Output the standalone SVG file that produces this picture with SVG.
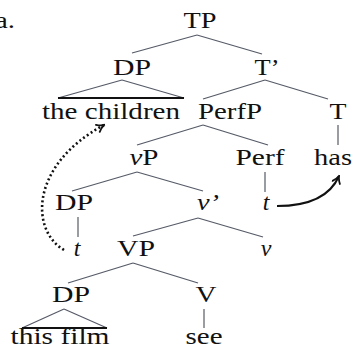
<svg xmlns="http://www.w3.org/2000/svg" width="353" height="348" viewBox="0 0 353 348">
  <style>
    .lbl { text-anchor: middle; fill: #111; }
    .it { font-style: italic; }
    .br { stroke: #555a66; stroke-width: 1.2; fill: none; }
    .base { stroke: #111; stroke-width: 1.8; }
    .mv { stroke: #111; stroke-width: 2; fill: none; }
    .dot { stroke: #111; stroke-width: 2.6; fill: none; stroke-dasharray: 2 2.6; }
  </style>
  <defs>
    <marker id="head" viewBox="0 0 10 10" refX="8.5" refY="5" markerWidth="10" markerHeight="10" orient="auto" markerUnits="userSpaceOnUse">
      <path d="M1.5,1 Q5,4 8.5,5 Q5,6 1.5,9" fill="none" stroke="#111" stroke-width="1.8" stroke-linecap="round"/>
    </marker>
  </defs>
  <rect width="353" height="348" fill="#fff"/>

  <g id="label-a"><text class="lbl" font-family="Liberation Serif" font-size="24" x="5" y="28" textLength="20" lengthAdjust="spacingAndGlyphs">a.</text></g>

  <g id="connectors">
    <line class="br" x1="197" y1="35" x2="132" y2="53"/>
    <line class="br" x1="197" y1="35" x2="262" y2="54"/>
    <line class="br" x1="122" y1="80" x2="58" y2="98"/>
    <line class="br" x1="122" y1="80" x2="184" y2="98"/>
    <line class="base" x1="58" y1="98" x2="184" y2="98"/>
    <line class="br" x1="265" y1="80" x2="203" y2="99"/>
    <line class="br" x1="265" y1="80" x2="328" y2="99"/>
    <line class="br" x1="203" y1="125" x2="137" y2="145"/>
    <line class="br" x1="203" y1="125" x2="268" y2="145"/>
    <line class="br" x1="338" y1="125" x2="338" y2="145"/>
    <line class="br" x1="137" y1="172" x2="72" y2="191"/>
    <line class="br" x1="137" y1="172" x2="203" y2="191"/>
    <line class="br" x1="265" y1="172" x2="265" y2="192"/>
    <line class="br" x1="78" y1="217" x2="78" y2="237"/>
    <line class="br" x1="198" y1="218" x2="133" y2="236"/>
    <line class="br" x1="198" y1="218" x2="263" y2="237"/>
    <line class="br" x1="133" y1="263" x2="68" y2="283"/>
    <line class="br" x1="133" y1="263" x2="198" y2="283"/>
    <line class="br" x1="64" y1="309" x2="22" y2="328"/>
    <line class="br" x1="64" y1="309" x2="107" y2="328"/>
    <line class="base" x1="22" y1="328" x2="107" y2="328"/>
    <line class="br" x1="204" y1="309" x2="204" y2="328"/>
    <!-- head movement: Perf to T -->
    <path class="mv" d="M277,206 Q326,206 339,176" marker-end="url(#head)"/>
    <!-- subject raising: Spec,vP to Spec,TP -->
    <path class="dot" d="M64,250 C30,230 30,165 104,125" marker-end="url(#head)"/>
  </g>

  <g id="node-TP"><text class="lbl" font-family="Liberation Serif" font-size="24" x="200" y="28" textLength="33" lengthAdjust="spacingAndGlyphs">TP</text></g>
  <g id="node-DP1"><text class="lbl" font-family="Liberation Serif" font-size="24" x="132" y="75" textLength="38" lengthAdjust="spacingAndGlyphs">DP</text></g>
  <g id="node-Tbar"><text class="lbl" font-family="Liberation Serif" font-size="24" x="267" y="75" textLength="25" lengthAdjust="spacingAndGlyphs">T’</text></g>
  <g id="node-children"><text class="lbl" font-family="Liberation Serif" font-size="24" x="111" y="119" textLength="138" lengthAdjust="spacingAndGlyphs">the children</text></g>
  <g id="node-PerfP"><text class="lbl" font-family="Liberation Serif" font-size="24" x="230" y="119" textLength="64" lengthAdjust="spacingAndGlyphs">PerfP</text></g>
  <g id="node-T"><text class="lbl" font-family="Liberation Serif" font-size="24" x="338" y="119" textLength="17" lengthAdjust="spacingAndGlyphs">T</text></g>
  <g id="node-vP"><text class="lbl" font-family="Liberation Serif" font-size="24" x="144" y="165" textLength="29" lengthAdjust="spacingAndGlyphs"><tspan class="it">v</tspan>P</text></g>
  <g id="node-Perf"><text class="lbl" font-family="Liberation Serif" font-size="24" x="260" y="165" textLength="49" lengthAdjust="spacingAndGlyphs">Perf</text></g>
  <g id="node-has"><text class="lbl" font-family="Liberation Serif" font-size="24" x="333" y="165" textLength="38" lengthAdjust="spacingAndGlyphs">has</text></g>
  <g id="node-DP2"><text class="lbl" font-family="Liberation Serif" font-size="24" x="74" y="210" textLength="38" lengthAdjust="spacingAndGlyphs">DP</text></g>
  <g id="node-vbar"><text class="lbl it" font-family="Liberation Serif" font-size="24" x="208" y="210" textLength="22" lengthAdjust="spacingAndGlyphs">v’</text></g>
  <g id="node-tPerf"><text class="lbl it" font-family="Liberation Serif" font-size="24" x="266" y="210">t</text></g>
  <g id="node-tDP"><text class="lbl it" font-family="Liberation Serif" font-size="24" x="77" y="256">t</text></g>
  <g id="node-VP"><text class="lbl" font-family="Liberation Serif" font-size="24" x="136" y="256" textLength="38" lengthAdjust="spacingAndGlyphs">VP</text></g>
  <g id="node-v"><text class="lbl it" font-family="Liberation Serif" font-size="24" x="266" y="256">v</text></g>
  <g id="node-DP3"><text class="lbl" font-family="Liberation Serif" font-size="24" x="71" y="302" textLength="38" lengthAdjust="spacingAndGlyphs">DP</text></g>
  <g id="node-V"><text class="lbl" font-family="Liberation Serif" font-size="24" x="206" y="302" textLength="21" lengthAdjust="spacingAndGlyphs">V</text></g>
  <g id="node-film"><text class="lbl" font-family="Liberation Serif" font-size="24" x="60" y="344" textLength="99" lengthAdjust="spacingAndGlyphs">this film</text></g>
  <g id="node-see"><text class="lbl" font-family="Liberation Serif" font-size="24" x="204" y="344" textLength="37" lengthAdjust="spacingAndGlyphs">see</text></g>
</svg>
